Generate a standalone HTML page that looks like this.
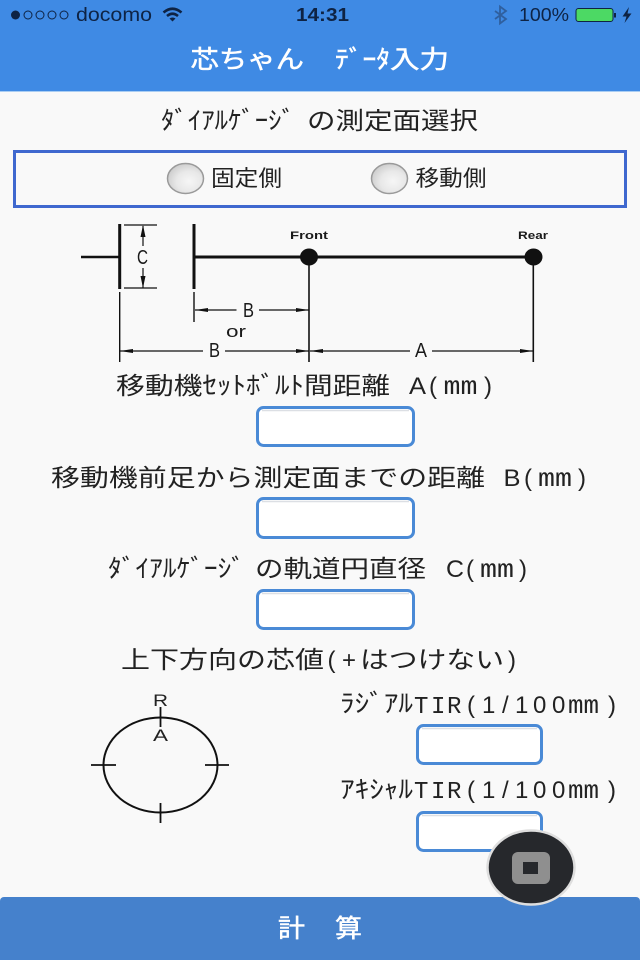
<!DOCTYPE html>
<html lang="ja"><head><meta charset="utf-8"><title>芯ちゃん データ入力</title>
<style>
html,body{margin:0;padding:0;background:#f9f9f9;width:640px;height:960px;overflow:hidden}
svg{display:block}
text{font-family:"Liberation Sans","Noto Sans CJK JP",sans-serif;fill:#222;font-size:23px}
.k{font-size:25px}
.c{font-size:24px}
.mm{font-family:"Liberation Mono",monospace;font-size:26px}
.m{font-family:"Liberation Mono",monospace;font-size:24px}
.w{fill:#fff;stroke:#fff;stroke-width:.5px}
.s{fill:#0e2344}
.d{fill:#1a1a1a;font-size:20px}
.i{fill:#fff;stroke:#4a8ad6;stroke-width:3}
.sh{fill:none;stroke:#dcdfe4;stroke-width:1.500}
</style></head><body>
<svg width="640" height="960" viewBox="0 0 640 960" xmlns="http://www.w3.org/2000/svg">
<defs>
<radialGradient id="rg" cx=".6" cy=".6" r=".7"><stop offset="0" stop-color="#f6f6f6"/><stop offset=".5" stop-color="#e8e8e8"/><stop offset="1" stop-color="#c6c6c6"/></radialGradient>
</defs>
<rect width="640" height="960" fill="#f9f9f9"/>
<rect width="640" height="91" fill="#3f8ae4"/>
<rect y="91" width="640" height="1" fill="#a9cdf3"/>
<!-- status bar -->
<circle cx="15.500" cy="15" r="4.500" fill="#0e2344"/>
<g fill="none" stroke="#0e2344" stroke-width="1"><circle cx="28" cy="15" r="4"/><circle cx="40" cy="15" r="4"/><circle cx="52" cy="15" r="4"/><circle cx="64" cy="15" r="4"/></g>
<text class="s" x="76" y="21" style="font-size:19px" textLength="76" lengthAdjust="spacingAndGlyphs">docomo</text>
<path d="M163.500 12.500Q172.500 5 181.500 12.500M167 16Q172.500 11.500 178 16" fill="none" stroke="#0e2344" stroke-width="2.600"/>
<path d="M169.500 18.500Q172.500 16.500 175.500 18.500L172.500 21.500Z" fill="#0e2344"/>
<text class="s" x="296" y="21" style="font-size:18px;font-weight:700" textLength="53" lengthAdjust="spacingAndGlyphs">14:31</text>
<path d="M495 11L506 19L500 23.500V6.500L506 11L495 19" fill="none" stroke="#2f5f9e" stroke-width="1.800"/>
<text class="s" x="519" y="21" style="font-size:18px" textLength="50" lengthAdjust="spacingAndGlyphs">100%</text>
<rect x="576" y="8.500" width="37" height="13" rx="2.500" fill="#4cd964" stroke="#0e2344" stroke-width="1"/>
<rect x="614" y="13" width="2" height="4.500" fill="#0e2344"/>
<path d="M629 7L622.500 16.500H626.500L624.500 23L631.500 13.500H627.500Z" fill="#0e2344"/>
<!-- title -->
<text class="w" x="190.500" y="68" style="font-size:25px" textLength="113.500" lengthAdjust="spacingAndGlyphs">芯ちゃん</text>
<text class="w" x="335" y="68" style="font-size:25px" textLength="55" lengthAdjust="spacingAndGlyphs">ﾃﾞｰﾀ</text>
<text class="w" x="390" y="68" style="font-size:25px" textLength="59" lengthAdjust="spacingAndGlyphs">入力</text>
<!-- heading -->
<text class="k" x="161" y="129" textLength="134" lengthAdjust="spacingAndGlyphs">ﾀﾞｲｱﾙｹﾞｰｼﾞ</text>
<text x="307" y="129" style="font-size:24px" textLength="171" lengthAdjust="spacingAndGlyphs">の測定面選択</text>
<!-- radio box -->
<rect x="14.500" y="151.500" width="611" height="55" fill="none" stroke="#3f68cf" stroke-width="3"/>
<ellipse cx="185.500" cy="178.500" rx="18" ry="15" fill="url(#rg)" stroke="#9a9a9a" stroke-width="1.500"/>
<ellipse cx="389.500" cy="178.500" rx="18" ry="15" fill="url(#rg)" stroke="#9a9a9a" stroke-width="1.500"/>
<text x="211" y="186" style="font-size:22px" textLength="71" lengthAdjust="spacingAndGlyphs">固定側</text>
<text x="415.500" y="186" style="font-size:22px" textLength="71" lengthAdjust="spacingAndGlyphs">移動側</text>
<!-- shaft diagram -->
<g stroke="#111" fill="none">
<path d="M81 257H119" stroke-width="2.500"/>
<path d="M119.700 224V289M194 224V289" stroke-width="3"/>
<path d="M195 257H533" stroke-width="3"/>
<path d="M124 225H157M124 288H157M143 226V246M143 268V288" stroke-width="1.200"/>
<path d="M309 257V362M533.300 257V362" stroke-width="1.600"/>
<path d="M119.700 292V362M194 292V322" stroke-width="1.400"/>
<path d="M195 310H236.500M259 310H309M120 351H203M225 351H309M310 351H410M432 351H533" stroke-width="1.200"/>
</g>
<ellipse cx="309" cy="257" rx="9" ry="8.500" fill="#111"/>
<ellipse cx="533.500" cy="257" rx="9" ry="8.500" fill="#111"/>
<g fill="#111">
<path d="M143 225L140.500 237H145.500ZM143 288L140.500 276H145.500Z"/>
<path d="M195 310L208 308V312ZM309 310L296 308V312Z"/>
<path d="M120 351L133 349V353ZM309 351L296 349V353ZM310 351L323 349V353ZM533 351L520 349V353Z"/>
</g>
<text class="d" x="137" y="264" textLength="11" lengthAdjust="spacingAndGlyphs">C</text>
<text class="d" x="243" y="317" textLength="11" lengthAdjust="spacingAndGlyphs">B</text>
<text class="d" x="209" y="357" textLength="11" lengthAdjust="spacingAndGlyphs">B</text>
<text class="d" x="415" y="357" textLength="12" lengthAdjust="spacingAndGlyphs">A</text>
<text class="d" x="226" y="337" style="font-size:17px" textLength="20" lengthAdjust="spacingAndGlyphs">or</text>
<text class="d" x="290" y="239" style="font-size:11px;font-weight:700" textLength="38" lengthAdjust="spacingAndGlyphs">Front</text>
<text class="d" x="518" y="239" style="font-size:11px;font-weight:700" textLength="30" lengthAdjust="spacingAndGlyphs">Rear</text>
<!-- label A -->
<text class="c" x="116" y="394" textLength="86.500" lengthAdjust="spacingAndGlyphs">移動機</text>
<text class="k" x="202.500" y="394" textLength="101.500" lengthAdjust="spacingAndGlyphs">ｾｯﾄﾎﾞﾙﾄ</text>
<text class="c" x="304" y="394" textLength="86" lengthAdjust="spacingAndGlyphs">間距離</text>
<text class="c" x="409" y="394" textLength="17" lengthAdjust="spacingAndGlyphs">A</text>
<text class="c" x="429" y="394">(</text>
<text class="mm" x="443.500" y="394" textLength="34" lengthAdjust="spacingAndGlyphs">mm</text>
<text class="c" x="484" y="394">)</text>
<rect class="i" x="257.500" y="407.500" width="156" height="38" rx="6"/>
<path class="sh" d="M262 410.500H409"/>
<!-- label B -->
<text class="c" x="51" y="486" textLength="434" lengthAdjust="spacingAndGlyphs">移動機前足から測定面までの距離</text>
<text class="c" x="503.500" y="486" textLength="17" lengthAdjust="spacingAndGlyphs">B</text>
<text class="c" x="524" y="486">(</text>
<text class="mm" x="538" y="486" textLength="34" lengthAdjust="spacingAndGlyphs">mm</text>
<text class="c" x="578" y="486">)</text>
<rect class="i" x="257.500" y="498.500" width="156" height="39" rx="6"/>
<path class="sh" d="M262 501.500H409"/>
<!-- label C -->
<text class="k" x="108" y="577" textLength="137" lengthAdjust="spacingAndGlyphs">ﾀﾞｲｱﾙｹﾞｰｼﾞ</text>
<text class="c" x="255" y="577" textLength="171" lengthAdjust="spacingAndGlyphs">の軌道円直径</text>
<text class="c" x="446" y="577" textLength="18" lengthAdjust="spacingAndGlyphs">C</text>
<text class="c" x="466" y="577">(</text>
<text class="mm" x="480" y="577" textLength="34" lengthAdjust="spacingAndGlyphs">mm</text>
<text class="c" x="519" y="577">)</text>
<rect class="i" x="257.500" y="590.500" width="156" height="38" rx="6"/>
<path class="sh" d="M262 593.500H409"/>
<!-- label 上下 -->
<text class="c" x="121" y="668" textLength="203" lengthAdjust="spacingAndGlyphs">上下方向の芯値</text>
<text class="c" x="327.500" y="668">(</text>
<text class="c" x="342" y="668" textLength="14" lengthAdjust="spacingAndGlyphs">+</text>
<text class="c" x="360" y="668" textLength="144" lengthAdjust="spacingAndGlyphs">はつけない</text>
<text class="c" x="508" y="668">)</text>
<!-- ellipse diagram -->
<ellipse cx="160.500" cy="765" rx="57" ry="47.500" fill="none" stroke="#111" stroke-width="2"/>
<path d="M91 765H116M205 765H229M160.500 707V727M160.500 803V823" stroke="#111" stroke-width="1.800" fill="none"/>
<text x="153" y="706" style="font-size:17px" textLength="15" lengthAdjust="spacingAndGlyphs">R</text>
<text x="153" y="741" style="font-size:17px" textLength="15" lengthAdjust="spacingAndGlyphs">A</text>
<!-- TIR 1 -->
<text x="340" y="712" class="k" textLength="73" lengthAdjust="spacingAndGlyphs">ﾗｼﾞｱﾙ</text>
<text class="m" x="414 431 447" y="713">TIR</text>
<text class="c" x="467" y="713">(</text>
<text class="c" x="482 502 515 533 552" y="713">1/100</text>
<text class="mm" x="568" y="713" textLength="31" lengthAdjust="spacingAndGlyphs">mm</text>
<text class="c" x="608" y="713">)</text>
<rect class="i" x="417.500" y="725.500" width="124" height="38" rx="6"/>
<path class="sh" d="M422 728.500H537"/>
<!-- TIR 2 -->
<text x="340" y="798" class="k" textLength="73" lengthAdjust="spacingAndGlyphs">ｱｷｼｬﾙ</text>
<text class="m" x="414 431 447" y="798">TIR</text>
<text class="c" x="467" y="798">(</text>
<text class="c" x="482 502 515 533 552" y="798">1/100</text>
<text class="mm" x="568" y="798" textLength="31" lengthAdjust="spacingAndGlyphs">mm</text>
<text class="c" x="608" y="798">)</text>
<rect class="i" x="417.500" y="812.500" width="124" height="38" rx="6"/>
<path class="sh" d="M422 815.500H537"/>
<!-- calc button -->
<rect x="0" y="897" width="640" height="70" rx="4" fill="#4581cc"/>
<text class="w" x="278" y="937" style="font-size:25px" textLength="27" lengthAdjust="spacingAndGlyphs">計</text>
<text class="w" x="335" y="937" style="font-size:25px" textLength="27" lengthAdjust="spacingAndGlyphs">算</text>
<!-- assistive touch -->
<ellipse cx="531" cy="867.500" rx="43.500" ry="37" fill="#26282c" stroke="#dedede" stroke-width="2.500"/>
<rect x="512" y="852" width="38" height="32" rx="6" fill="#8f8f8f"/>
<rect x="523" y="862" width="15" height="12" fill="#26282c"/>
</svg>
</body></html>
